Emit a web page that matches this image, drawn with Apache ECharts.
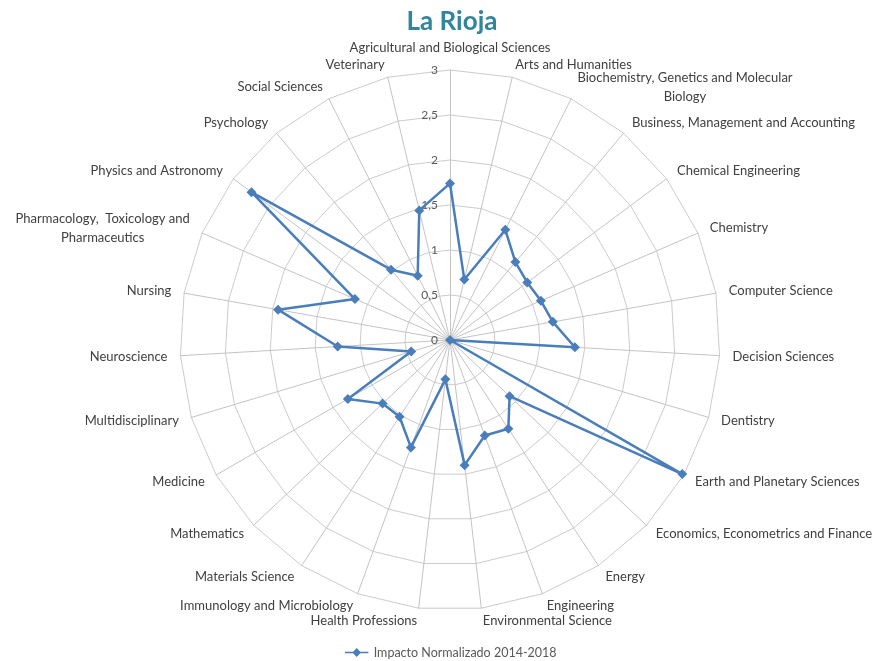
<!DOCTYPE html>
<html>
<head>
<meta charset="utf-8">
<script src="https://cdn.jsdelivr.net/npm/echarts@6/dist/echarts.min.js"></script>
<style>html,body{margin:0;padding:0;background:#fff}#c{width:873px;height:661px}</style>
</head>
<body>
<div id="c"></div>
<script>
const categories = [
  'Agricultural and Biological Sciences',
  'Arts and Humanities',
  'Biochemistry, Genetics and Molecular\nBiology',
  'Business, Management and Accounting',
  'Chemical Engineering',
  'Chemistry',
  'Computer Science',
  'Decision Sciences',
  'Dentistry',
  'Earth and Planetary Sciences',
  'Economics, Econometrics and Finance',
  'Energy',
  'Engineering',
  'Environmental Science',
  'Health Professions',
  'Immunology and Microbiology',
  'Materials Science',
  'Mathematics',
  'Medicine',
  'Multidisciplinary',
  'Neuroscience',
  'Nursing',
  'Pharmacology,  Toxicology and\nPharmaceutics',
  'Physics and Astronomy',
  'Psychology',
  'Social Sciences',
  'Veterinary'
];
const values = [1.74, 0.69, 1.37, 1.13, 1.07, 1.10, 1.16, 1.39, 0, 2.98, 0.91, 1.18, 1.13, 1.40,
  0.44, 1.27, 1.02, 1.03, 1.31, 0.45, 1.25, 1.94, 1.15, 2.75, 1.02, 0.80, 1.48];
const tickLabels = ['0', '0,5', '1', '1,5', '2', '2,5', '3'];
const seriesName = 'Impacto Normalizado 2014-2018';
const chartTitle = 'La Rioja';
const axisMax = 3;

const nameFont = '13px Lato';
const measureCtx = document.createElement('canvas').getContext('2d');
measureCtx.font = nameFont;
function nameWidth(name) {
  return Math.ceil(Math.max.apply(null, name.split('\n').map(l => measureCtx.measureText(l).width)));
}
function nameFormatter(name) {
  if (name.indexOf('\n') < 0) return name;
  const w = nameWidth(name);
  return name.split('\n').map(l => '{c' + w + '|' + l + '}').join('\n');
}
const rich = {};
categories.forEach(c => {
  if (c.indexOf('\n') >= 0) {
    const w = nameWidth(c);
    rich['c' + w] = { width: w, align: 'center', fontSize: 13, fontFamily: 'Lato', color: '#404040', lineHeight: 19 };
  }
});

// ECharts radar runs counter-clockwise; reorder so categories run clockwise from top
const order = [0].concat(categories.map((_, i) => i).slice(1).reverse());
const indicator = order.map((idx, k) => {
  const ind = { name: categories[idx], max: axisMax, min: 0 };
  if (k === 0) {
    ind.axisLabel = {
      show: true, margin: 12, color: '#595959', fontSize: 12, fontFamily: 'Lato',
      formatter: (v) => tickLabels[Math.round(v / 0.5)]
    };
  }
  return ind;
});
const orderedValues = order.map(idx => values[idx]);

const chart = echarts.init(document.getElementById('c'), null, { renderer: 'canvas' });
chart.setOption({
  animation: false,
  backgroundColor: '#ffffff',
  title: {
    text: chartTitle, left: 447, top: 4, textAlign: 'center',
    textStyle: { color: '#31859c', fontSize: 26, fontWeight: 'bold', fontFamily: 'Lato' }
  },
  legend: {
    top: 641, left: 340,
    data: [{ name: seriesName, icon: 'path://M0,4.3 L9,4.3 L13,0 L17,4.3 L26,4.3 L26,5.7 L17,5.7 L13,10 L9,5.7 L0,5.7 Z' }],
    itemWidth: 28, itemHeight: 9, itemGap: 4,
    textStyle: { color: '#595959', fontSize: 12.5, fontFamily: 'Lato', padding: [0, 0, 0, -2] }
  },
  radar: {
    center: [450, 340],
    radius: 270,
    startAngle: 90,
    shape: 'polygon',
    splitNumber: 6,
    nameGap: 13,
    axisName: { color: '#404040', fontSize: 13, fontFamily: 'Lato', lineHeight: 19, formatter: nameFormatter, rich: rich },
    splitLine: { lineStyle: { color: '#cccccc', width: 1 } },
    axisLine: { lineStyle: { color: '#c4c4c4', width: 1 } },
    splitArea: { show: false },
    axisTick: { show: false },
    indicator: indicator
  },
  series: [{
    type: 'radar',
    name: seriesName,
    symbol: 'diamond',
    symbolSize: 10,
    lineStyle: { color: '#4a7ebb', width: 2.5 },
    itemStyle: { color: '#4a7ebb' },
    data: [{ name: seriesName, value: orderedValues }]
  }]
});
</script>
</body>
</html>
